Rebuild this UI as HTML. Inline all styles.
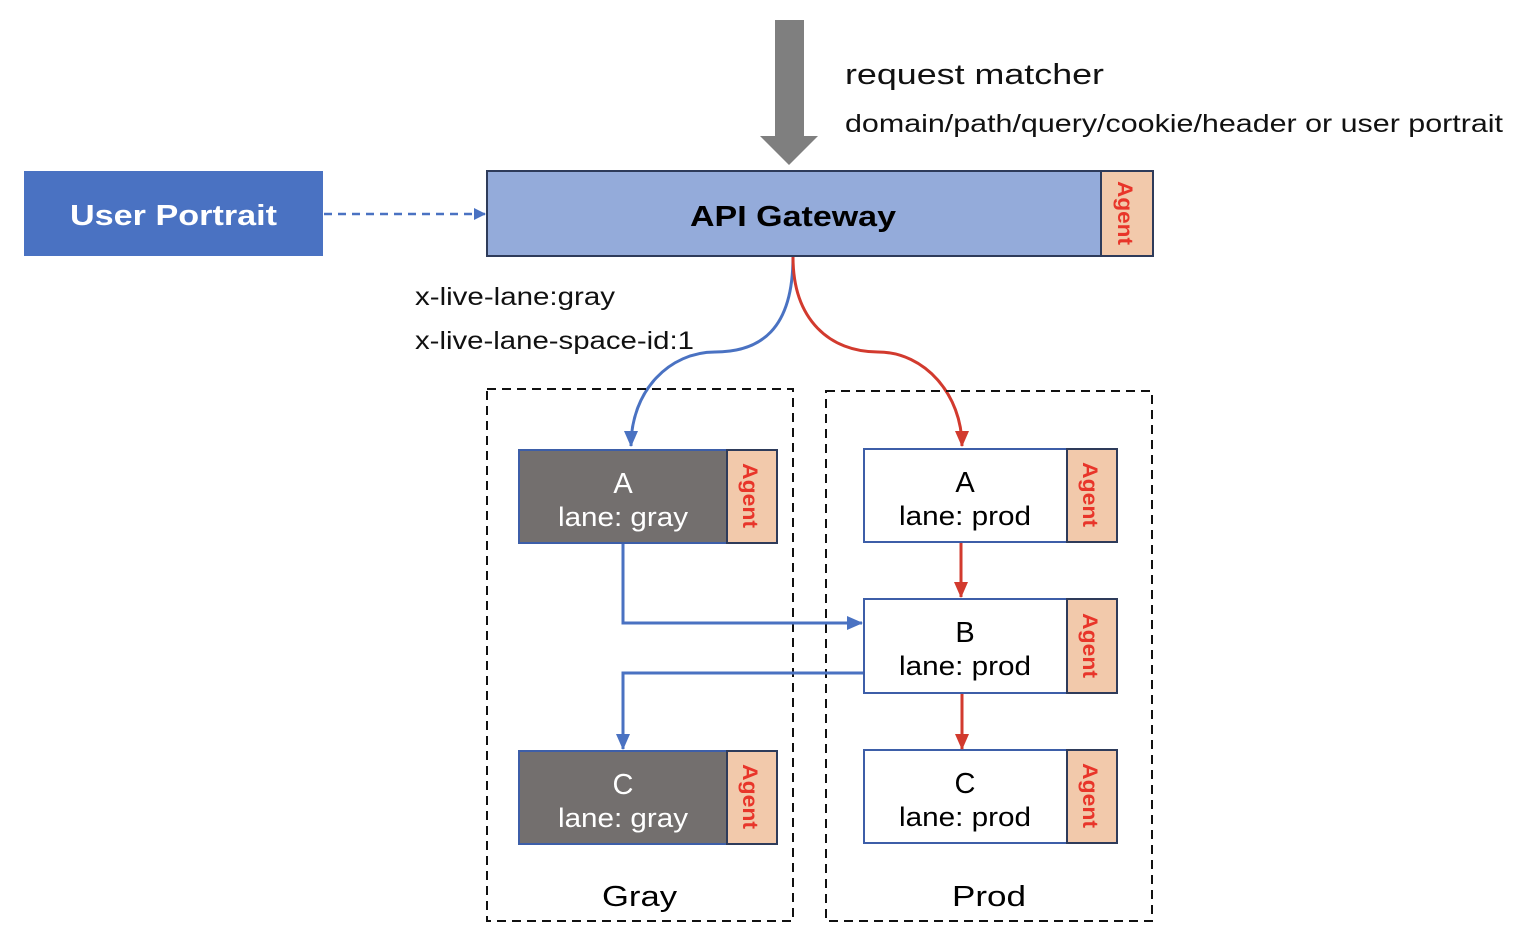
<!DOCTYPE html>
<html><head><meta charset="utf-8"><style>
html,body{margin:0;padding:0;background:#fff;}
svg{display:block;font-family:"Liberation Sans",sans-serif;}
</style></head><body>
<svg width="1520" height="946" viewBox="0 0 1520 946" xmlns="http://www.w3.org/2000/svg">
<defs>
<marker id="bh" markerWidth="12" markerHeight="12" refX="11" refY="6" orient="auto" markerUnits="userSpaceOnUse"><path d="M0,0 L12,6 L0,12 z" fill="#4a72c2"/></marker>
<marker id="bh2" markerWidth="16" markerHeight="16" refX="15" refY="8" orient="auto" markerUnits="userSpaceOnUse"><path d="M0,1 L16,8 L0,15 z" fill="#4a72c2"/></marker>
<marker id="rh" markerWidth="16" markerHeight="16" refX="15" refY="8" orient="auto" markerUnits="userSpaceOnUse"><path d="M0,1 L16,8 L0,15 z" fill="#d23a2e"/></marker>
</defs>
<rect x="775" y="20" width="29" height="118" fill="#7f7f7f"/>
<path d="M760,136 L818,136 L789,165 z" fill="#7f7f7f"/>
<text x="845" y="84" font-size="29" fill="#111" textLength="259" lengthAdjust="spacingAndGlyphs">request matcher</text>
<text x="845" y="132" font-size="25" fill="#111" textLength="658" lengthAdjust="spacingAndGlyphs">domain/path/query/cookie/header or user portrait</text>
<rect x="24" y="171" width="299" height="85" fill="#4a72c2"/>
<text x="70" y="225" font-size="29" font-weight="bold" fill="#fff" textLength="207" lengthAdjust="spacingAndGlyphs">User Portrait</text>
<line x1="324" y1="214" x2="485" y2="214" stroke="#4a72c2" stroke-width="2.5" stroke-dasharray="8,6" marker-end="url(#bh)"/>
<rect x="487" y="171" width="614" height="85" fill="#94abda" stroke="#2e3b5a" stroke-width="2"/>
<rect x="1101" y="171" width="52" height="85" fill="#f2c9ab" stroke="#2e3b5a" stroke-width="2"/>
<text x="690" y="226" font-size="29" font-weight="bold" fill="#000" textLength="206" lengthAdjust="spacingAndGlyphs">API Gateway</text>
<text transform="translate(1118,181) rotate(90)" font-size="21" font-weight="bold" fill="#e8352a" textLength="64" lengthAdjust="spacingAndGlyphs">Agent</text>
<text x="415" y="305" font-size="25" fill="#111" textLength="200" lengthAdjust="spacingAndGlyphs">x-live-lane:gray</text>
<text x="415" y="349" font-size="25" fill="#111" textLength="279" lengthAdjust="spacingAndGlyphs">x-live-lane-space-id:1</text>
<path d="M793,257 C793,330 760,352 715,352 C670,352 631,390 631,446" fill="none" stroke="#4a72c2" stroke-width="3" marker-end="url(#bh2)"/>
<path d="M793,257 C793,320 830,352 878,352 C925,352 962,395 962,446" fill="none" stroke="#d23a2e" stroke-width="3" marker-end="url(#rh)"/>
<rect x="487" y="389" width="306" height="532" fill="none" stroke="#111" stroke-width="2" stroke-dasharray="9,6"/>
<rect x="826" y="391" width="326" height="530" fill="none" stroke="#111" stroke-width="2" stroke-dasharray="9,6"/>
<text x="602" y="906" font-size="29" fill="#000" textLength="75" lengthAdjust="spacingAndGlyphs">Gray</text>
<text x="952" y="906" font-size="29" fill="#000" textLength="74" lengthAdjust="spacingAndGlyphs">Prod</text>
<g>
<rect x="519" y="450" width="208" height="93" fill="#736f6e" stroke="#3d5ea8" stroke-width="2"/>
<rect x="727" y="450" width="50" height="93" fill="#f2c9ab" stroke="#2e3b5a" stroke-width="2"/>
<text x="623" y="493" font-size="29" fill="#fff" text-anchor="middle">A</text>
<text x="558" y="526" font-size="27" fill="#fff" textLength="130" lengthAdjust="spacingAndGlyphs">lane: gray</text>
<text transform="translate(743,463) rotate(90)" font-size="21" font-weight="bold" fill="#e8352a" textLength="65" lengthAdjust="spacingAndGlyphs">Agent</text>
</g>
<g>
<rect x="519" y="751" width="208" height="93" fill="#736f6e" stroke="#3d5ea8" stroke-width="2"/>
<rect x="727" y="751" width="50" height="93" fill="#f2c9ab" stroke="#2e3b5a" stroke-width="2"/>
<text x="623" y="794" font-size="29" fill="#fff" text-anchor="middle">C</text>
<text x="558" y="827" font-size="27" fill="#fff" textLength="130" lengthAdjust="spacingAndGlyphs">lane: gray</text>
<text transform="translate(743,764) rotate(90)" font-size="21" font-weight="bold" fill="#e8352a" textLength="65" lengthAdjust="spacingAndGlyphs">Agent</text>
</g>
<g>
<rect x="864" y="449" width="203" height="93" fill="#fff" stroke="#3d5ea8" stroke-width="2"/>
<rect x="1067" y="449" width="50" height="93" fill="#f2c9ab" stroke="#2e3b5a" stroke-width="2"/>
<text x="965" y="492" font-size="29" fill="#000" text-anchor="middle">A</text>
<text x="899" y="525" font-size="27" fill="#000" textLength="132" lengthAdjust="spacingAndGlyphs">lane: prod</text>
<text transform="translate(1083,462) rotate(90)" font-size="21" font-weight="bold" fill="#e8352a" textLength="65" lengthAdjust="spacingAndGlyphs">Agent</text>
</g>
<g>
<rect x="864" y="599" width="203" height="94" fill="#fff" stroke="#3d5ea8" stroke-width="2"/>
<rect x="1067" y="599" width="50" height="94" fill="#f2c9ab" stroke="#2e3b5a" stroke-width="2"/>
<text x="965" y="642" font-size="29" fill="#000" text-anchor="middle">B</text>
<text x="899" y="675" font-size="27" fill="#000" textLength="132" lengthAdjust="spacingAndGlyphs">lane: prod</text>
<text transform="translate(1083,613) rotate(90)" font-size="21" font-weight="bold" fill="#e8352a" textLength="65" lengthAdjust="spacingAndGlyphs">Agent</text>
</g>
<g>
<rect x="864" y="750" width="203" height="93" fill="#fff" stroke="#3d5ea8" stroke-width="2"/>
<rect x="1067" y="750" width="50" height="93" fill="#f2c9ab" stroke="#2e3b5a" stroke-width="2"/>
<text x="965" y="793" font-size="29" fill="#000" text-anchor="middle">C</text>
<text x="899" y="826" font-size="27" fill="#000" textLength="132" lengthAdjust="spacingAndGlyphs">lane: prod</text>
<text transform="translate(1083,763) rotate(90)" font-size="21" font-weight="bold" fill="#e8352a" textLength="65" lengthAdjust="spacingAndGlyphs">Agent</text>
</g>
<path d="M623,544 L623,623 L862,623" fill="none" stroke="#4a72c2" stroke-width="3" marker-end="url(#bh2)"/>
<path d="M863,673 L623,673 L623,749" fill="none" stroke="#4a72c2" stroke-width="3" marker-end="url(#bh2)"/>
<line x1="961" y1="543" x2="961" y2="597" stroke="#d23a2e" stroke-width="3" marker-end="url(#rh)"/>
<line x1="962" y1="694" x2="962" y2="749" stroke="#d23a2e" stroke-width="3" marker-end="url(#rh)"/>
</svg>
</body></html>
